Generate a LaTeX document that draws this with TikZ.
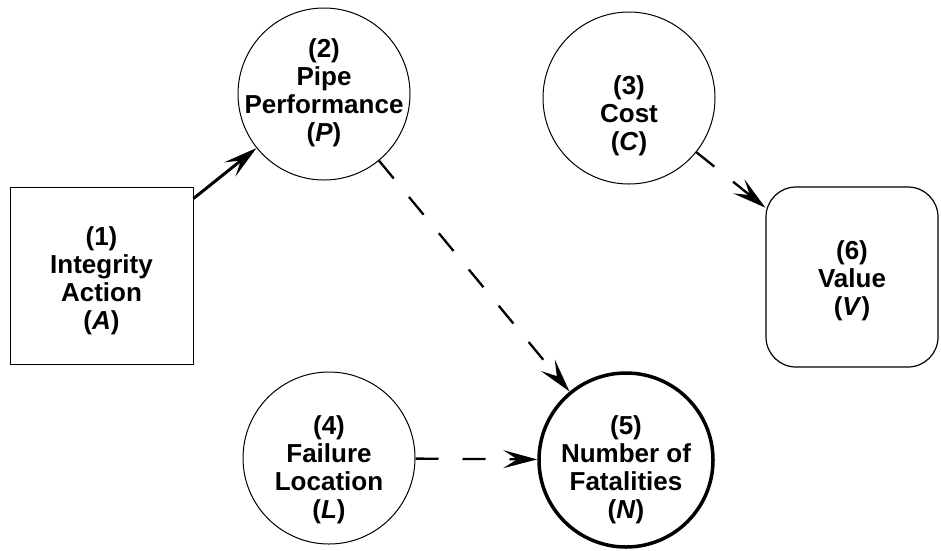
\documentclass[tikz,border=0pt]{standalone}
\usepackage{fontspec}
\setmainfont{Liberation Sans}
\usetikzlibrary{arrows.meta}
\begin{document}
\begin{tikzpicture}[x=1pt,y=-1pt,
  >={Stealth[length=34pt,width=18pt,inset=14pt]},
  circ/.style={draw, circle, line width=1pt, minimum size=172pt, inner sep=0pt},
  sqbox/.style={draw, rectangle, line width=1pt, minimum width=183pt, minimum height=177pt, inner sep=0pt},
  rbox/.style={draw, rectangle, rounded corners=30pt, line width=1.2pt, minimum width=172pt, minimum height=180pt, inner sep=0pt},
  txt/.style={align=center, inner sep=0pt, font=\fontsize{26}{28}\selectfont\bfseries},
  solidarrow/.style={->, line width=3pt},
  dasharrow/.style={->, line width=2.3pt, dash pattern=on 23pt off 24pt}]
\useasboundingbox (0,0) rectangle (941,550);
\node[sqbox] (A) at (101.5,275.5) {};
\node[circ] (P) at (324,94) {};
\node[circ] (C) at (629,98) {};
\node[rbox] (V) at (852,277) {};
\node[circ] (L) at (329,458) {};
\node[circ, line width=3.5pt, minimum size=174pt] (N) at (626,460) {};
\node[txt] (At) at (101.5,281) {(1)\\Integrity\\Action\\(\textit{A})};
\node[txt] (Pt) at (324,93) {(2)\\Pipe\\Performance\\(\textit{P})};
\node[txt] (Ct) at (629,116) {(3)\\Cost\\(\textit{C})};
\node[txt] (Vt) at (852,281) {(6)\\Value\\(\textit{V})};
\node[txt] (Lt) at (329,470) {(4)\\Failure\\Location\\(\textit{L})};
\node[txt] (Nt) at (626,470) {(5)\\Number of\\Fatalities\\(\textit{N})};
\coordinate (Astart) at ([yshift=-12pt]A.north east);
\draw[solidarrow] (Astart) -- (P);
\draw[dasharrow] (P) -- (N);
\draw[dasharrow] (C) -- (V);
\draw[dasharrow] (L) -- (N);
\end{tikzpicture}
\end{document}
